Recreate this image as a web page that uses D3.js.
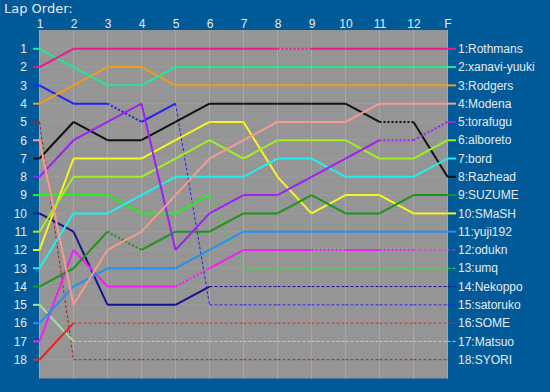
<!DOCTYPE html>
<html><head><meta charset="utf-8">
<script src="https://cdn.jsdelivr.net/npm/d3@7"></script>
<style>
html,body{margin:0;padding:0;background:#005a98;}
svg{display:block;}
</style></head>
<body>
<svg id="c" width="550" height="392"></svg>
<script>
const laps = ["1","2","3","4","5","6","7","8","9","10","11","12","F"];
const rows = d3.range(1, 19);
const names = ["Rothmans","xanavi-yuuki","Rodgers","Modena","torafugu","alboreto","bord","Razhead","SUZUME","SMaSH","yuji192","odukn","umq","Nekoppo","satoruko","SOME","Matsuo","SYORI"];
const colors = ["#ec1a8c","#22e894","#f09a1e","#f89a92","#a020f4","#a2f022","#22eef0","#111111","#1a961a","#f6f620","#2292f0","#f020f0","#22f022","#14148e","#2222f0","#f02020","#a2e2a2","#a82222"];
// positions at laps 1..12, F
const positions = [
  [2,1,1,1,1,1,1,1,1,1,1,1,1],
  [1,2,3,3,2,2,2,2,2,2,2,2,2],
  [4,3,2,2,3,3,3,3,3,3,3,3,3],
  [6,15,12,11,9,7,6,5,5,5,4,4,4],
  [8,6,5,4,12,10,9,9,8,7,6,6,5],
  [11,8,8,8,7,6,7,6,6,6,7,7,6],
  [13,10,10,9,8,8,8,7,7,8,8,8,7],
  [7,5,6,6,5,4,4,4,4,4,5,5,8],
  [14,13,11,12,11,11,10,10,9,10,10,9,9],
  [12,7,7,7,6,5,5,8,10,9,9,10,10],
  [16,14,13,13,13,12,11,11,11,11,11,11,11],
  [17,12,14,14,14,13,12,12,12,12,12,12,12],
  [9,9,9,10,10,9,13,13,13,13,13,13,13],
  [10,11,15,15,15,14,14,14,14,14,14,14,14],
  [3,4,4,5,4,15,15,15,15,15,15,15,15],
  [18,16,16,16,16,16,16,16,16,16,16,16,16],
  [15,17,17,17,17,17,17,17,17,17,17,17,17],
  [5,18,18,18,18,18,18,18,18,18,18,18,18]
];
// segment styles: s = solid, d = dotted, r = retired (thin dashed)
const segStyles = [
  "sssssssdssss",
  "ssssssssssss",
  "ssssssssssss",
  "ssssssssssss",
  "ssssssssssdd",
  "ssssssssssss",
  "ssssssssssss",
  "ssssssssssds",
  "ssdsssssssss",
  "ssssssssssss",
  "ssssssssssss",
  "ssssdsssdsdr",
  "sssssrrrrrrr",
  "sssssrrrrrrr",
  "ssdsrrrrrrrr",
  "srrrrrrrrrrr",
  "srrrrrrrrrrr",
  "rrrrrrrrrrrr"
];

(function () {
const svg = d3.select("#c");
const pl = 39.5, pr = 447.5, pt = 30, pb = 378.5;
const x = d3.scalePoint().domain(laps).range([pl, pr]);
const y = d3.scaleLinear().domain([0, 19]).range([pt + 0.5, pb - 0.5]);

const font = "'Liberation Sans', Arial, sans-serif";
const textCol = "#e4eaf2";

svg.append("text").attr("x", 4).attr("y", 13).attr("fill", textCol)
  .style("font-family", "'DejaVu Sans', Verdana, sans-serif").style("font-size", "13px").text("Lap Order:");

svg.append("rect").attr("x", pl).attr("y", pt).attr("width", pr - pl + 0.5).attr("height", pb - pt)
  .attr("fill", "#959595");

const grid = svg.append("g");
grid.selectAll("line.v").data(laps).join("line").attr("class", "v")
  .attr("x1", d => x(d)).attr("x2", d => x(d)).attr("y1", pt).attr("y2", pb)
  .attr("stroke", "#a8a8a8").attr("stroke-width", 1);
grid.selectAll("line.h").data(rows).join("line").attr("class", "h")
  .attr("x1", pl).attr("x2", pr).attr("y1", d => y(d)).attr("y2", d => y(d))
  .attr("stroke", "#9d9d9d").attr("stroke-width", 1);

const xAxis = svg.append("g").attr("transform", `translate(0,${pt - 2})`)
  .call(d3.axisTop(x).tickSize(0).tickPadding(0));
xAxis.select(".domain").remove();
xAxis.selectAll("text").attr("fill", textCol).style("font-family", font).style("font-size", "12px");

const yAxis = svg.append("g").attr("transform", `translate(27,0)`)
  .call(d3.axisLeft(y).tickValues(rows).tickSize(0).tickPadding(0).tickFormat(d3.format("d")));
yAxis.select(".domain").remove();
yAxis.selectAll("text").attr("fill", textCol).style("font-family", font).style("font-size", "12px");

const lines = svg.append("g");
function styleSeg(sel, st, color) {
  sel.attr("stroke", color).attr("fill", "none");
  if (st === "s") sel.attr("stroke-width", 2);
  else if (st === "d") sel.attr("stroke-width", 2).attr("stroke-dasharray", "2,2");
  else sel.attr("stroke-width", 1).attr("stroke-dasharray", "3,2");
}
for (let i = names.length - 1; i >= 0; i--) {
  const g = lines.append("g");
  const p = positions[i], st = segStyles[i], c = colors[i];
  styleSeg(g.append("line").attr("x1", 33).attr("x2", x(laps[0])).attr("y1", y(p[0])).attr("y2", y(p[0])), "s", c);
  for (let k = 0; k < laps.length - 1; k++) {
    const seg = g.append("line")
      .attr("x1", x(laps[k])).attr("y1", y(p[k]))
      .attr("x2", x(laps[k + 1])).attr("y2", y(p[k + 1]));
    styleSeg(seg, st[k], c);
  }
  const last = st[st.length - 1] === "r" ? "r" : "s";
  const pe = p[p.length - 1];
  styleSeg(g.append("line").attr("x1", pr).attr("x2", 456).attr("y1", y(pe)).attr("y2", y(pe)), last, c);
}

svg.append("g").selectAll("text").data(names).join("text")
  .attr("x", 458).attr("y", (d, i) => y(positions[i][laps.length - 1]))
  .attr("dy", "0.35em").attr("fill", textCol)
  .style("font-family", font).style("font-size", "12px")
  .text((d, i) => `${positions[i][laps.length - 1]}:${d}`);
})();
</script>
</body></html>
